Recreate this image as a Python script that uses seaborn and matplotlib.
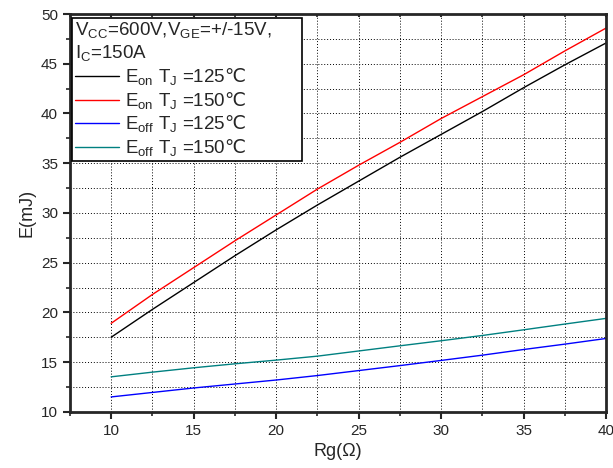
import pandas as pd
import matplotlib.pyplot as plt
import seaborn as sns
from matplotlib.ticker import MultipleLocator

# values
rg = [10, 12.5, 15, 17.5, 20, 22.5, 25, 27.5, 30, 32.5, 35, 37.5, 40]
eon_125 = [17.5, 20.3, 23.0, 25.7, 28.3, 30.8, 33.2, 35.6, 37.9, 40.2, 42.6, 44.9, 47.1]
eon_150 = [18.9, 21.8, 24.5, 27.2, 29.8, 32.4, 34.8, 37.1, 39.5, 41.7, 43.9, 46.3, 48.6]
eoff_125 = [11.5, 11.95, 12.4, 12.8, 13.2, 13.65, 14.15, 14.65, 15.17, 15.7, 16.27, 16.81, 17.38]
eoff_150 = [13.52, 13.99, 14.43, 14.83, 15.2, 15.6, 16.12, 16.64, 17.15, 17.68, 18.25, 18.83, 19.4]

# ℃ goes through \mathsf so it is drawn with DejaVu Sans
labels = [r'E$_{\rm on}$ T$_{\rm J}$ =125$\mathsf{℃}$', r'E$_{\rm on}$ T$_{\rm J}$ =150$\mathsf{℃}$',
          r'E$_{\rm off}$ T$_{\rm J}$ =125$\mathsf{℃}$', r'E$_{\rm off}$ T$_{\rm J}$ =150$\mathsf{℃}$']
colors = ['black', '#ff0000', '#0000ff', '#008080']

df = pd.DataFrame({
    'Rg': rg * 4,
    'E': eon_125 + eon_150 + eoff_125 + eoff_150,
    'curve': sum([[l] * len(rg) for l in labels], []),
})

sns.set_style('ticks')
plt.rcParams['font.family'] = ['Liberation Sans', 'DejaVu Sans']
plt.rcParams['mathtext.fontset'] = 'custom'
plt.rcParams['mathtext.rm'] = 'Liberation Sans'
plt.rcParams['mathtext.sf'] = 'DejaVu Sans'

fig = plt.figure(figsize=(6.13, 4.68), dpi=100)
ax = fig.add_axes([0.114, 0.12, 0.875, 0.85])

sns.lineplot(data=df, x='Rg', y='E', hue='curve', palette=colors, linewidth=1.0, ax=ax)

ax.set_xlim(7.5, 40)
ax.set_ylim(10, 50)
ax.xaxis.set_major_locator(MultipleLocator(5))
ax.xaxis.set_minor_locator(MultipleLocator(2.5))
ax.yaxis.set_major_locator(MultipleLocator(5))
ax.yaxis.set_minor_locator(MultipleLocator(2.5))
ax.set_xticks([10, 15, 20, 25, 30, 35, 40])
ax.grid(which='both', linestyle=(0, (1, 2)), color='black', linewidth=0.7)
ax.tick_params(which='major', length=5, width=1.5, labelsize=11, direction='out')
ax.tick_params(which='minor', length=3, width=1.2, direction='out')
ax.tick_params(axis='x', which='both', top=True, labeltop=False)
for s in ax.spines.values():
    s.set_linewidth(2)
    s.set_visible(True)

ax.set_xlabel('Rg(Ω)', fontsize=13)
ax.set_ylabel('E(mJ)', fontsize=13)
# the top ticks point inward and are short
for t in ax.xaxis.get_major_ticks() + ax.xaxis.get_minor_ticks():
    t.tick2line.set_markersize(2.5)
    t.tick2line.set_marker(3)

leg = ax.legend(title=r'V$_{\rm CC}$=600V,V$_{\rm GE}$=+/-15V,' + '\n' + r'I$_{\rm C}$=150A',
                loc='upper left', bbox_to_anchor=(0.004, 0.5, 0.428, 0.49), mode='expand',
                fontsize=13.5, title_fontsize=13.5, handlelength=2.35,
                frameon=True, fancybox=False, framealpha=1, edgecolor='black',
                borderaxespad=0, borderpad=0.15, labelspacing=0.12, handletextpad=0.3,
                alignment='left')
leg.get_frame().set_linewidth(1.2)

plt.savefig('out.png', dpi=100)
